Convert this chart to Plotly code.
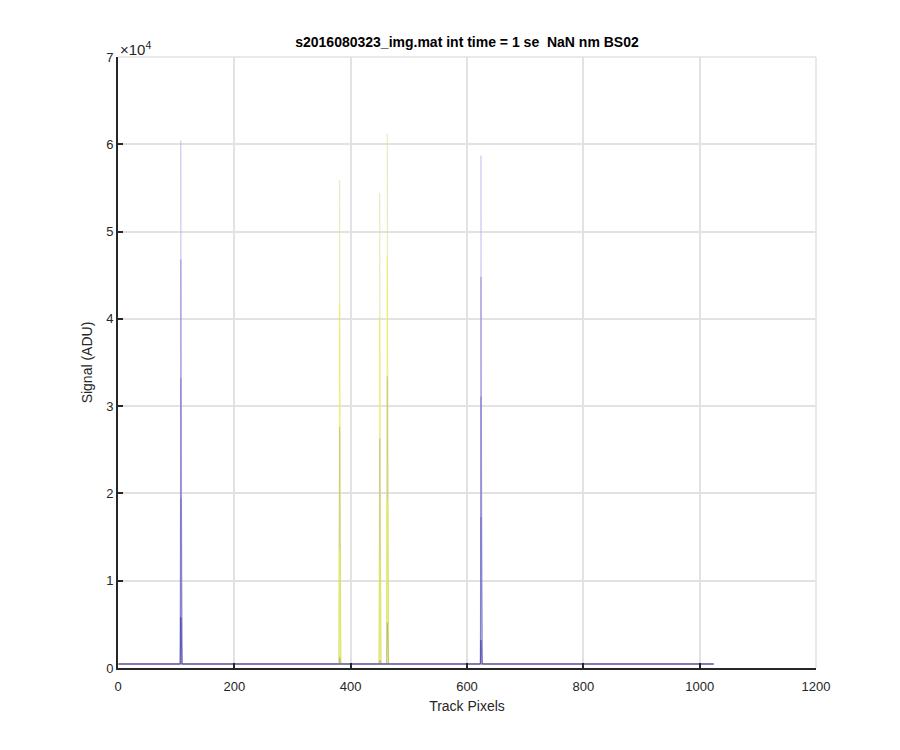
import numpy as np
import plotly.graph_objects as go

# Track pixel axis
n_pixels = 1024
pixels = np.arange(1, n_pixels + 1)

# Spikes carried by the blue-toned rows and the yellow-toned rows (track pixels)
blue_spike_pixels = [108, 624]
yellow_spike_pixels = [381, 450, 463]

# Spike heights (ADU) for each row, listed per spike position
blue_heights = {
    "b1": [60400, 58700],
    "b2": [46800, 44800],
    "b3": [33200, 31100],
    "b4": [19400, 17300],
    "b5": [5800, 3200],
}
yellow_heights = {
    "y1": [55900, 54400, 61200],
    "y2": [41600, 40200, 47100],
    "y3": [27600, 26300, 33400],
    "y4": [13500, 12200, 19200],
    "y5": [1200, 900, 5200],
}
baselines = {"b1": 430, "b2": 440, "b3": 450, "b4": 460, "b5": 470,
             "y1": 420, "y2": 425, "y3": 435, "y4": 445, "y5": 455}
row_colors = {
    "b1": "#b4b1ea", "b2": "#8a86d6", "b3": "#7a76cc", "b4": "#6a66c2", "b5": "#2f2a8e",
    "y1": "#e0e0a0", "y2": "#eeee50", "y3": "#b8b880", "y4": "#f2f238", "y5": "#9c9a70",
}

x_ticks = [0, 200, 400, 600, 800, 1000, 1200]
y_ticks = [0, 10000, 20000, 30000, 40000, 50000, 60000, 70000]
y_tick_labels = ["0", "1", "2", "3", "4", "5", "6", "7"]

fig = go.Figure()


def add_row(name, spike_pixels, heights):
    y = np.full(n_pixels, float(baselines[name]))
    for p, h in zip(spike_pixels, heights):
        y[p - 1] = h
    fig.add_trace(go.Scatter(x=pixels, y=y, mode="lines",
                             line=dict(color=row_colors[name], width=0.5),
                             showlegend=False, hoverinfo="skip"))


for name in ["y1", "y2", "y3", "y4", "y5"]:
    add_row(name, yellow_spike_pixels, yellow_heights[name])
for name in ["b1", "b2", "b3", "b4", "b5"]:
    add_row(name, blue_spike_pixels, blue_heights[name])

FONT = "Liberation Sans, Arial, Helvetica, sans-serif"
axis_font = dict(family=FONT, size=13, color="#262626")

fig.update_layout(
    width=892, height=742,
    margin=dict(l=110, r=84, t=49, b=82),
    paper_bgcolor="white", plot_bgcolor="white",
    font=axis_font,
    title=dict(text="<b>s2016080323_img.mat int time = 1 se  NaN nm BS02</b>",
               x=459 / 892, xanchor="center", y=1 - 34 / 742, yanchor="middle",
               font=dict(family=FONT, size=14, color="black")),
    showlegend=False,
)
fig.update_xaxes(
    range=[0, 1200], tickvals=x_ticks, ticks="inside", ticklen=5, tickwidth=1.5,
    tickcolor="#262626", showline=True, linecolor="#262626", linewidth=2,
    showgrid=True, gridcolor="#e2e2e2", gridwidth=1.5, zeroline=False,
    ticklabelstandoff=5,
    title=dict(text="Track Pixels", font=dict(family=FONT, size=14, color="#262626"), standoff=9),
    tickfont=axis_font,
)
fig.update_yaxes(
    range=[0, 70000], tickvals=y_ticks, ticktext=y_tick_labels, ticks="inside",
    ticklen=5, tickwidth=1.5, tickcolor="#262626", showline=True, linecolor="#262626",
    linewidth=2, showgrid=True, gridcolor="#e2e2e2", gridwidth=1.5, zeroline=False,
    title=dict(text="Signal (ADU)", font=dict(family=FONT, size=14, color="#262626"), standoff=10),
    tickfont=axis_font,
)
# light frame edges at the top and right (grid lines at the range limits)
fig.add_shape(type="line", xref="paper", yref="paper", x0=0, x1=1, y0=1, y1=1,
              line=dict(color="#e2e2e2", width=1.5), layer="below")
fig.add_shape(type="line", xref="paper", yref="paper", x0=1, x1=1, y0=0, y1=1,
              line=dict(color="#e2e2e2", width=1.5), layer="below")
fig.add_annotation(text="×10<sup>4</sup>", xref="paper", yref="paper", x=0, y=1,
                   xanchor="left", yanchor="bottom", showarrow=False, yshift=-3,
                   font=dict(family=FONT, size=15, color="#262626"))

fig.write_html("out.html")
